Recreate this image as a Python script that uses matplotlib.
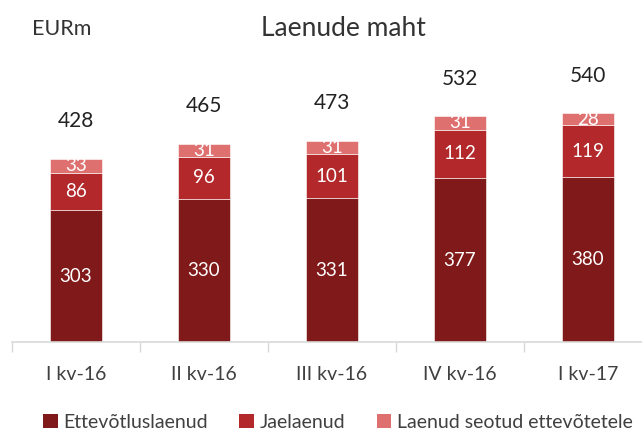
import numpy as np
import matplotlib
matplotlib.use("Agg")
import matplotlib.pyplot as plt
from matplotlib.patches import Patch

plt.rcParams["font.family"] = ["Lato", "DejaVu Sans"]

# data (EURm)
quarters = ["I kv-16", "II kv-16", "III kv-16", "IV kv-16", "I kv-17"]
business = [303, 330, 331, 377, 380]
retail = [86, 96, 101, 112, 119]
related = [33, 31, 31, 31, 28]
totals = [428, 465, 473, 532, 540]
series_names = ["Ettevõtluslaenud", "Jaelaenud", "Laenud seotud ettevõtetele"]
colors = ["#801919", "#b3282a", "#df7070"]

W, H = 642, 432
fig = plt.figure(figsize=(W / 100, H / 100), dpi=100)
# axes: baseline at y=342px, category width 128px starting at x=12
ax = fig.add_axes([12 / W, 1 - 342 / H, 640 / W, 304 / H])

x = np.arange(len(quarters))
bottom = np.zeros(len(quarters))
for vals, col in zip([business, retail, related], colors):
    vals = np.array(vals, dtype=float)
    ax.bar(x, vals, width=0.41, bottom=bottom, color=col,
           edgecolor="white", linewidth=0.4)
    for xi, b, v in zip(x, bottom, vals):
        ax.text(xi, b + v / 2, f"{int(v)}", ha="center", va="center",
                color="white", fontsize=13.5)
    bottom += vals

for xi, t, top in zip(x, totals, bottom):
    ax.annotate(f"{t}", (xi, top), xytext=(0, 27), textcoords="offset points",
                ha="center", va="center", fontsize=15, color="#222222")

ax.set_xlim(-0.5, len(quarters) - 0.5)
ax.set_ylim(0, 700)
ax.set_xticks(np.arange(len(quarters) + 1) - 0.5, minor=True)
ax.set_xticks(x)
ax.set_xticklabels(quarters, fontsize=14, color="#404040")
ax.tick_params(axis="x", which="major", length=0, pad=17)
ax.tick_params(axis="x", which="minor", length=7, color="#d9d9d9", width=1)
ax.set_yticks([])
for s in ["top", "right", "left"]:
    ax.spines[s].set_visible(False)
ax.spines["bottom"].set_color("#d9d9d9")
ax.spines["bottom"].set_linewidth(1.2)

fig.text(343 / W, 1 - 28 / H, "Laenude maht", ha="center", va="center",
         fontsize=19, color="#333333")
fig.text(32 / W, 1 - 29 / H, "EURm", ha="left", va="center",
         fontsize=15.5, color="#333333")

handles = [Patch(facecolor=c) for c in colors]
fig.legend(handles, series_names, loc="center", ncol=3,
           bbox_to_anchor=(338 / W, 1 - 422 / H), frameon=False,
           fontsize=14, handlelength=0.75, handleheight=0.75,
           handletextpad=0.3, columnspacing=1.6, labelcolor="#404040")

fig.savefig("out.png", dpi=100)
